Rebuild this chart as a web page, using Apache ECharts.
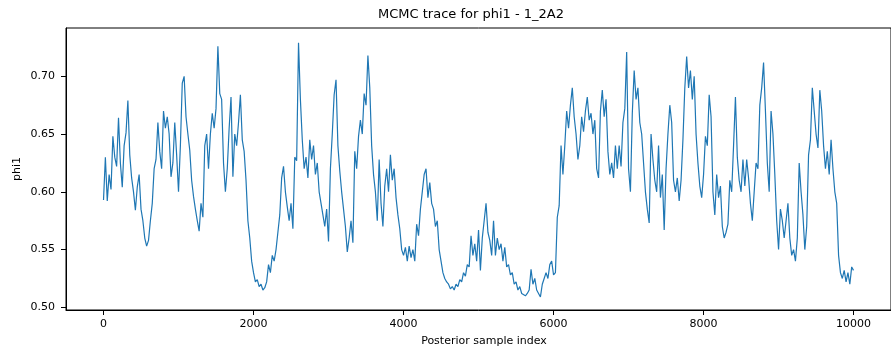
<!DOCTYPE html>
<html>
<head>
<meta charset="utf-8">
<script src="https://cdn.jsdelivr.net/npm/echarts@6/dist/echarts.min.js"></script>
<style>
  html, body { margin: 0; padding: 0; background: #ffffff; }
  #chart { width: 891px; height: 353px; }
</style>
</head>
<body>
<div id="chart"></div>
<script>
// Posterior sample index spacing between stored trace values
const sampleStep = 25;
// phi1 trace values (one every 25 samples, 0..10000)
const phi1 = [
  0.593, 0.630, 0.592, 0.615, 0.602, 0.648, 0.630, 0.622, 0.664, 0.625,
  0.604, 0.640, 0.651, 0.679, 0.632, 0.612, 0.600, 0.584, 0.604, 0.615,
  0.585, 0.575, 0.560, 0.553, 0.558, 0.575, 0.590, 0.620, 0.628, 0.660,
  0.635, 0.620, 0.670, 0.655, 0.665, 0.650, 0.613, 0.625, 0.660, 0.632,
  0.600, 0.640, 0.694, 0.700, 0.665, 0.650, 0.636, 0.610, 0.596, 0.585,
  0.575, 0.566, 0.590, 0.578, 0.640, 0.650, 0.620, 0.650, 0.668, 0.655,
  0.672, 0.726, 0.685, 0.680, 0.625, 0.600, 0.620, 0.655, 0.682, 0.613,
  0.650, 0.640, 0.660, 0.684, 0.645, 0.635, 0.610, 0.575, 0.560, 0.540,
  0.530, 0.522, 0.524, 0.518, 0.520, 0.515, 0.517, 0.522, 0.537, 0.530,
  0.545, 0.540, 0.550, 0.565, 0.580, 0.612, 0.622, 0.600, 0.587, 0.575,
  0.590, 0.568, 0.630, 0.627, 0.729, 0.680, 0.645, 0.620, 0.630, 0.612,
  0.645, 0.628, 0.640, 0.615, 0.625, 0.600, 0.590, 0.580, 0.570, 0.585,
  0.557, 0.620, 0.650, 0.684, 0.697, 0.640, 0.618, 0.600, 0.585, 0.570,
  0.548, 0.560, 0.575, 0.556, 0.635, 0.620, 0.648, 0.662, 0.650, 0.685,
  0.675, 0.718, 0.690, 0.640, 0.615, 0.600, 0.575, 0.628, 0.590, 0.570,
  0.605, 0.620, 0.600, 0.632, 0.610, 0.620, 0.595, 0.580, 0.568, 0.550,
  0.545, 0.552, 0.540, 0.553, 0.543, 0.550, 0.540, 0.572, 0.562, 0.585,
  0.600, 0.615, 0.620, 0.595, 0.608, 0.590, 0.585, 0.570, 0.575, 0.550,
  0.540, 0.530, 0.525, 0.522, 0.520, 0.516, 0.518, 0.515, 0.520, 0.518,
  0.524, 0.522, 0.530, 0.527, 0.537, 0.535, 0.562, 0.545, 0.555, 0.540,
  0.567, 0.532, 0.560, 0.575, 0.590, 0.565, 0.558, 0.545, 0.575, 0.545,
  0.560, 0.550, 0.555, 0.540, 0.552, 0.535, 0.537, 0.528, 0.530, 0.520,
  0.522, 0.515, 0.518, 0.512, 0.513, 0.510, 0.512, 0.515, 0.533, 0.520,
  0.525, 0.515, 0.512, 0.509, 0.520, 0.525, 0.530, 0.525, 0.537, 0.540,
  0.528, 0.530, 0.578, 0.588, 0.640, 0.615, 0.640, 0.670, 0.655, 0.675,
  0.690, 0.665, 0.650, 0.628, 0.640, 0.665, 0.652, 0.670, 0.682, 0.662,
  0.668, 0.650, 0.662, 0.620, 0.612, 0.670, 0.688, 0.665, 0.680, 0.635,
  0.615, 0.625, 0.612, 0.640, 0.620, 0.640, 0.622, 0.660, 0.672, 0.721,
  0.620, 0.600, 0.668, 0.705, 0.680, 0.690, 0.660, 0.650, 0.625, 0.600,
  0.585, 0.573, 0.650, 0.628, 0.610, 0.600, 0.640, 0.595, 0.615, 0.567,
  0.620, 0.650, 0.675, 0.660, 0.610, 0.600, 0.612, 0.592, 0.610, 0.645,
  0.690, 0.717, 0.690, 0.705, 0.680, 0.700, 0.650, 0.625, 0.605, 0.595,
  0.615, 0.648, 0.640, 0.684, 0.665, 0.600, 0.580, 0.615, 0.595, 0.605,
  0.570, 0.560, 0.565, 0.572, 0.610, 0.600, 0.640, 0.682, 0.630, 0.610,
  0.600, 0.628, 0.605, 0.628, 0.612, 0.590, 0.575, 0.600, 0.625, 0.620,
  0.675, 0.690, 0.712, 0.670, 0.625, 0.600, 0.670, 0.650, 0.615, 0.575,
  0.550, 0.585, 0.575, 0.560, 0.575, 0.590, 0.560, 0.545, 0.550, 0.540,
  0.560, 0.625, 0.600, 0.580, 0.550, 0.570, 0.632, 0.645, 0.690, 0.670,
  0.650, 0.638, 0.688, 0.670, 0.640, 0.620, 0.635, 0.615, 0.645, 0.620,
  0.600, 0.590, 0.545, 0.530, 0.525, 0.532, 0.522, 0.530, 0.520, 0.535,
  0.532
];
const xTicks = [0, 2000, 4000, 6000, 8000, 10000];
const yTicks = [0.50, 0.55, 0.60, 0.65, 0.70];

const titleText = 'MCMC trace for phi1 - 1_2A2';
const xName = 'Posterior sample index';
const yName = 'phi1';

const seriesData = phi1.map((v, i) => [Math.min(i * sampleStep, 9999), v]);

const FONT = 'DejaVu Sans';
const chart = echarts.init(document.getElementById('chart'), null, { renderer: 'canvas' });
chart.setOption({
  animation: false,
  backgroundColor: '#ffffff',
  graphic: [
    { type: 'text', x: 471, y: 8, style: { text: titleText, font: '13px "DejaVu Sans"', fill: '#000', textAlign: 'center' } },
    { type: 'text', x: 484, y: 336, style: { text: xName, font: '11px "DejaVu Sans"', fill: '#000', textAlign: 'center' } },
    { type: 'text', x: 12, y: 169, rotation: Math.PI / 2, style: { text: yName, font: '11px "DejaVu Sans"', fill: '#000', textAlign: 'center', textVerticalAlign: 'top' } }
  ],
  grid: { left: 66, top: 28, right: -10, bottom: 43, show: true, borderColor: '#000', borderWidth: 1, backgroundColor: '#fff' },
  xAxis: {
    type: 'value', min: -500, max: 10499,
    axisLine: { show: true, onZero: false, lineStyle: { color: '#000', width: 1 } },
    axisTick: { show: true, length: 5, lineStyle: { color: '#000' }, customValues: xTicks },
    axisLabel: { color: '#000', fontFamily: FONT, fontSize: 11, margin: 9, customValues: xTicks, formatter: v => String(v) },
    splitLine: { show: false }
  },
  yAxis: {
    type: 'value', min: 0.4977, max: 0.7418,
    axisLine: { show: true, onZero: false, lineStyle: { color: '#000', width: 1 } },
    axisTick: { show: true, length: 5, lineStyle: { color: '#000' }, customValues: yTicks },
    axisLabel: { color: '#000', fontFamily: FONT, fontSize: 11, margin: 11, customValues: yTicks, formatter: v => v.toFixed(2) },
    splitLine: { show: false }
  },
  series: [{
    type: 'line', data: seriesData, showSymbol: false, symbol: 'none',
    lineStyle: { color: '#1f77b4', width: 1.2 }, clip: true
  }]
});
</script>
</body>
</html>
